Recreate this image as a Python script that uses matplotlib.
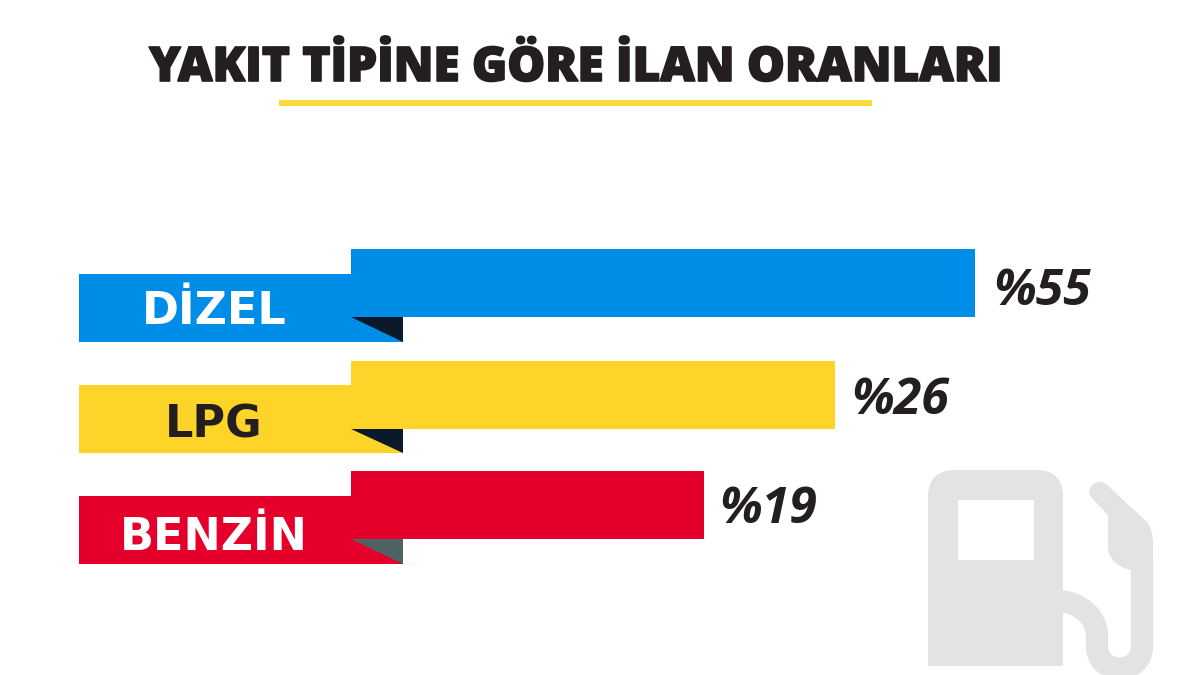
"""Yakit tipine gore ilan oranlari"""

import matplotlib

matplotlib.use("Agg")
import matplotlib.patheffects as pe
import matplotlib.pyplot as plt
from matplotlib.patches import FancyBboxPatch, PathPatch, Rectangle
from matplotlib.path import Path

TITLE = "YAKIT TİPİNE GÖRE İLAN ORANLARI"
CATEGORIES = ["DİZEL", "LPG", "BENZİN"]
PERCENTS = [55, 26, 19]
# the picture is not drawn to scale, so the bar ends are read off it separately
BAR_ENDS = [975, 835, 704]

COLORS = ["#008de8", "#ffd428", "#e4002b"]
FOLD_COLORS = ["#0a1a2b", "#0a1a2b", "#4d6262"]
LABEL_COLORS = ["white", "#231f20", "white"]
ICON = "#e1e3e5"
INK = "#231f20"

TAB_LEFT, BAR_LEFT, TAB_RIGHT = 79, 351, 403
BAR_TOPS = [249, 360.5, 471]
BAR_H, TAB_DROP = 68, 24.5
LABEL_BASE = [324, 437, 550]
PCT_X = [993, 851, 719]
PCT_BASE = [305, 414, 523]

C3, C4 = Path.CURVE3, Path.CURVE4
MV, LN = Path.MOVETO, Path.LINETO


def draw_pump(ax):
    ax.add_patch(FancyBboxPatch((955, 497), 81, 200, boxstyle="round,pad=27,rounding_size=27",
                                fc=ICON, ec="none", zorder=1))
    ax.add_patch(Rectangle((920, 666), 150, 30, fc="white", ec="none", zorder=2))
    ax.add_patch(Rectangle((958, 500), 76, 60, fc="white", ec="none", zorder=3))

    hose = Path(
        [(1060, 601.5), (1079, 601.5), (1097, 617), (1097, 636), (1097, 646),
         (1097, 676), (1142, 676), (1142, 646), (1142, 560)],
        [MV, C4, C4, C4, LN, C4, C4, C4, LN],
    )
    ax.add_patch(PathPatch(hose, fc="none", ec=ICON, lw=16, capstyle="butt", zorder=1))

    nozzle = Path(
        [(1092, 498), (1108, 515), (1108, 547), (1108, 560), (1120, 568), (1131, 570),
         (1153, 570), (1153, 545), (1153, 535), (1151, 527), (1147, 522),
         (1107, 485), (1098, 476), (1083, 489), (1092, 498), (1092, 498)],
        [MV, LN, LN, C4, C4, C4, LN, LN, C4, C4, C4, LN, C4, C4, C4, Path.CLOSEPOLY],
    )
    ax.add_patch(PathPatch(nozzle, fc=ICON, ec="none", zorder=1))


fig = plt.figure(figsize=(12, 6.75), dpi=100)
ax = fig.add_axes([0, 0, 1, 1])
ax.set_xlim(0, 1200)
ax.set_ylim(675, 0)
ax.axis("off")

ax.text(575, 81, TITLE, ha="center", va="baseline", fontsize=34.3, family="Open Sans",
        weight="extra bold", color=INK,
        path_effects=[pe.withStroke(linewidth=1.2, foreground=INK)])
ax.add_patch(Rectangle((279, 100), 593, 6, fc="#fddb3a", ec="none"))

draw_pump(ax)

for i, cat in enumerate(CATEGORIES):
    top = BAR_TOPS[i]
    tab_top = top + TAB_DROP
    ax.barh(tab_top, TAB_RIGHT - TAB_LEFT, BAR_H, left=TAB_LEFT, align="edge", color=COLORS[i], zorder=4)
    ax.barh(top, BAR_ENDS[i] - BAR_LEFT, BAR_H, left=BAR_LEFT, align="edge", color=COLORS[i], zorder=5)
    # folded corner under the bar
    ax.fill([BAR_LEFT, TAB_RIGHT, TAB_RIGHT], [top + BAR_H, top + BAR_H, tab_top + BAR_H],
            color=FOLD_COLORS[i], lw=0, zorder=6)
    ax.text(214, LABEL_BASE[i], cat, ha="center", va="baseline", fontsize=32, family="DejaVu Sans",
            weight="bold", color=LABEL_COLORS[i], zorder=7)
    ax.text(PCT_X[i], PCT_BASE[i], f"%{PERCENTS[i]}", ha="left", va="baseline", fontsize=36,
            family="Open Sans", weight="bold", style="italic", color=INK, zorder=7)

fig.savefig("out.png", dpi=100)
